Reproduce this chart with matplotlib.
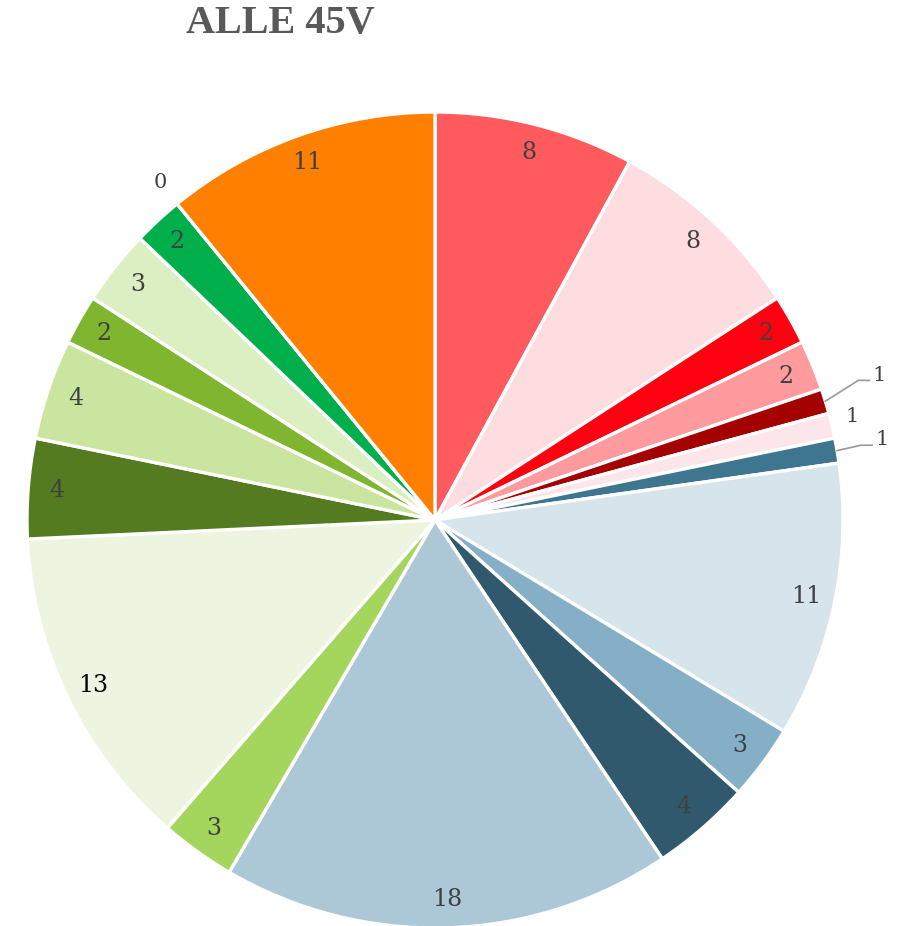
import numpy as np
import matplotlib.pyplot as plt

# slice values, clockwise from 12 o'clock
values = [8, 8, 2, 2, 1, 1, 1, 11, 3, 4, 18, 3, 13, 4, 4, 2, 3, 2, 0, 11]
colors = ["#FF5B5F", "#FDDDE0", "#FF0010", "#FF9A9E", "#A50000", "#FDE6EA",
          "#3F768F", "#D6E4EC", "#84AFC7", "#30596D", "#ACC8D7", "#A4D65E",
          "#EDF5E0", "#547B1F", "#C9E5A0", "#80B52F", "#DCEFC2", "#00AF4B",
          "#FFFFFF", "#FF8000"]
title = "ALLE 45V"

# labels drawn outside the pie: index -> (dx, dy from slice edge, leader line)
outside = {4: (0.133, 0.064, True), 5: (0.049, 0.023, False),
           6: (0.111, 0.026, True), 18: (-0.042, 0.053, False)}
label_color = {12: "#000000"}


def main():
    fig = plt.figure(figsize=(9.04, 9.26), dpi=100)
    ax = fig.add_axes([27 / 904, -2 / 926, 816 / 904, 816 / 926])

    wedges, _ = ax.pie(values, colors=colors, startangle=90, counterclock=False,
                       radius=1, wedgeprops=dict(edgecolor="white", linewidth=2.4))
    ax.set_xlim(-1, 1)
    ax.set_ylim(-1, 1)
    ax.set_aspect("equal")
    ax.axis("off")

    total = float(sum(values))
    cum = np.cumsum([0] + values[:-1])
    for i, v in enumerate(values):
        mid = (cum[i] + v / 2.0) / total * 360.0
        ang = np.deg2rad(90 - mid)
        ca, sa = np.cos(ang), np.sin(ang)
        col = label_color.get(i, "#404040")
        if i in outside:
            dx, dy, line = outside[i]
            tx, ty = ca + dx, sa + dy
            if line:
                ax.plot([ca, tx - 0.052, tx - 0.025],
                        [sa, ty - 0.013, ty - 0.013], color="#999999", lw=1.2,
                        clip_on=False)
            ax.text(tx, ty, str(v), ha="center", va="center",
                    fontsize=15, color=col, family="DejaVu Serif")
        else:
            ax.text(0.93 * ca, 0.93 * sa, str(v), ha="center", va="center",
                    fontsize=17, color=col, family="DejaVu Serif")

    fig.text(280 / 904, 1 - 24 / 926, title, ha="center", va="center",
             fontsize=29, fontweight="bold", color="#595959",
             family="Liberation Serif")

    fig.savefig("out.png", dpi=100, facecolor="white")


if __name__ == "__main__":
    main()
